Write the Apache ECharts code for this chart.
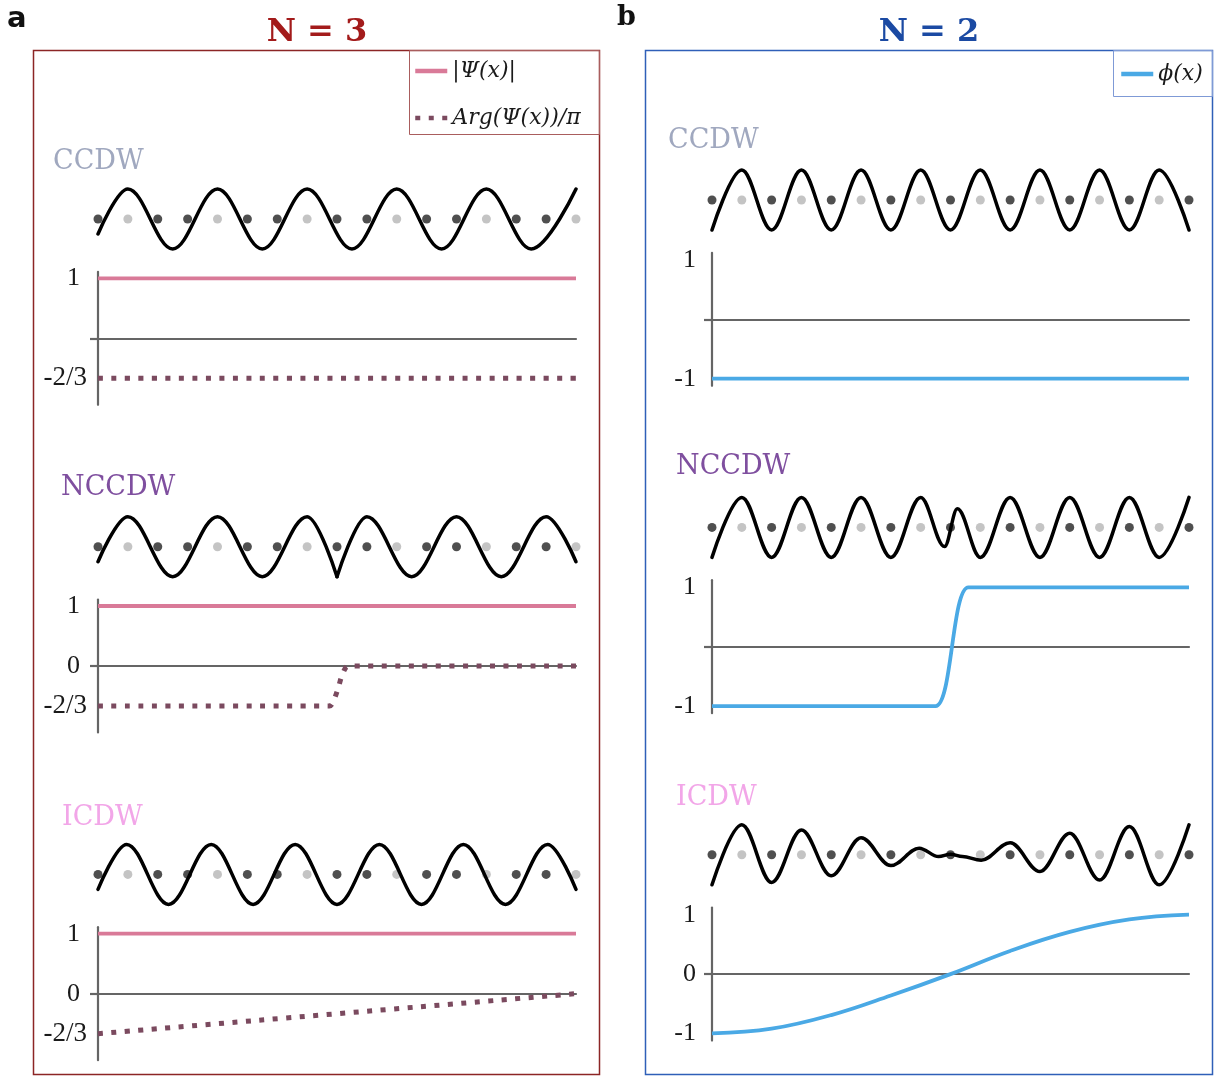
<!DOCTYPE html>
<html>
<head>
<meta charset="utf-8">
<script src="https://cdn.jsdelivr.net/npm/echarts@6/dist/echarts.min.js"></script>
<style>
html,body{margin:0;padding:0;background:#ffffff;}
#chart{width:1217px;height:1076px;}
</style>
</head>
<body>
<div id="chart"></div>
<script>
// ================= DATA =================
// lattice sites (x positions in units of the site spacing)
const sitesLightA = [1, 4, 7, 10, 13, 16];
const sitesDarkA  = [0, 2, 3, 5, 6, 8, 9, 11, 12, 14, 15];
const sitesLightB = [1, 3, 5, 7, 9, 11, 13, 15];
const sitesDarkB  = [0, 2, 4, 6, 8, 10, 12, 14, 16];

// CDW waves: extrema of the black curves [site, amplitude]
const waveA_CCDW = [[0,-0.5],[1,1],[2.5,-1],[4,1],[5.5,-1],[7,1],[8.5,-1],[10,1],[11.5,-1],[13,1],[14.5,-1],[16,1]];
const waveA_NCCDW_left  = [[0,-0.5],[1,1],[2.5,-1],[4,1],[5.5,-1],[7,1],[8,-1]];
const waveA_NCCDW_right = [[8,-1],[9,1],[10.5,-1],[12,1],[13.5,-1],[15,1],[16,-0.5]];
const waveA_ICDW = [[0,-0.5],[0.96,1],[2.36,-1],[3.79,1],[5.19,-1],[6.6,1],[8.0,-1],[9.42,1],[10.83,-1],[12.23,1],[13.64,-1],[15.05,1],[16,-0.5]];
const waveB_CCDW = [[0,-1],[1,1],[2,-1],[3,1],[4,-1],[5,1],[6,-1],[7,1],[8,-1],[9,1],[10,-1],[11,1],[12,-1],[13,1],[14,-1],[15,1],[16,-1]];
const waveB_NCCDW = [[0,-1],[1,1],[2,-1],[3,1],[4,-1],[5,1],[6,-1],[7,1],[7.8,-0.64],[8.23,0.62],[9,-1],[10,1],[11,-1],[12,1],[13,-1],[14,1],[15,-1],[16,1]];
const waveB_ICDW = [[0,-1],[1,1],[2,-0.92],[3,0.83],[4,-0.7],[5,0.57],[6,-0.36],[6.95,0.22],[7.6,-0.06],[8.0,0.02],[8.4,-0.06],[9.03,-0.18],[10,0.4],[11,-0.56],[12,0.72],[13,-0.84],[14,0.94],[15,-1],[16,1]];

// order parameters
const psiA_CCDW  = [[0,1],[16,1]];
const psiA_NCCDW = [[0,1],[16,1]];
const psiA_ICDW  = [[0,1],[16,1]];
const argA_CCDW  = [[0,-2/3],[16,-2/3]];
const argA_NCCDW = [[0,-2/3],[7.75,-2/3],[7.9,-0.56],[8.05,-0.35],[8.18,-0.14],[8.38,0],[16,0]];
const argA_ICDW  = [[0,-2/3],[16,0]];
const phiB_CCDW  = [[0,-1],[16,-1]];
const phiB_NCCDW = [[0,-1],[7.5,-1],[8.6,1],[16,1]];
const phiB_ICDW  = [[0,-1],[2,-0.92],[4,-0.69],[6,-0.36],[8,0],[10,0.39],[12,0.71],[14,0.92],[16,1]];

// texts
const panelLetters = ['a', 'b'];
const panelTitles  = ['N = 3', 'N = 2'];
const phaseNames   = ['CCDW', 'NCCDW', 'ICDW'];
const legendNamesA = ['|Ψ(x)|', 'Arg(Ψ(x))/π'];
const legendNamesB = ['ϕ(x)'];
const tickValuesA = [[1, -2/3], [1, 0, -2/3], [1, 0, -2/3]];
const tickLabelsA = [['1', '-2/3'], ['1', '0', '-2/3'], ['1', '0', '-2/3']];
const tickValuesB = [[1, -1], [1, -1], [1, 0, -1]];
const tickLabelsB = [['1', '-1'], ['1', '-1'], ['1', '0', '-1']];

// ================= STYLE / LAYOUT =================
const AXIS_GRAY = '#656565';
const PINK = '#d97a98';
const MAUVE = '#7b4a5f';
const BLUE = '#4aa9e5';
const DARK_DOT = '#4f4f4f';
const LIGHT_DOT = '#c4c4c4';
const phaseColors = ['#a0a8bf', '#7f4f9f', '#f2a6e8'];
const SERIF = "'DejaVu Serif', serif";
const TSERIF = "'Liberation Serif', serif";

const layoutA = {left: 98, width: 478, centers: [219, 546.7, 874.4], ymax: 1.108, labelX: [53, 61, 62], labelDy: [-57.3, -58.7, -56.4]};
const layoutB = {left: 712, width: 477, centers: [200, 527.4, 854.8], ymax: 1.12, labelX: [668, 676, 676], labelDy: [-59, -60.4, -56.8]};
const PLOT_OFFSET = 119.3, PLOT_HALF = 66.5;

const grid = [], xAxis = [], yAxis = [], series = [];

function labelFor(v, vals, labs) {
  for (let i = 0; i < vals.length; i++) if (Math.abs(vals[i] - v) < 1e-6) return labs[i];
  return '';
}

function waveGrid(left, width, center) {
  const gi = grid.length;
  grid.push({left: left, width: width, top: center - 45, height: 90});
  xAxis.push({gridIndex: gi, type: 'value', min: 0, max: 16, show: false});
  yAxis.push({gridIndex: gi, type: 'value', min: -1.5, max: 1.5, show: false});
  return gi;
}

function plotGrid(left, width, zero, ymax, vals, labs, margin, padShort) {
  const gi = grid.length;
  grid.push({left: left, width: width, top: zero - PLOT_HALF, height: 2 * PLOT_HALF});
  xAxis.push({gridIndex: gi, type: 'value', min: 0, max: 16,
    axisLine: {show: true, onZero: true, lineStyle: {color: AXIS_GRAY, width: 2.2}},
    axisTick: {show: false}, axisLabel: {show: false}, splitLine: {show: false}});
  yAxis.push({gridIndex: gi, type: 'value', min: -ymax, max: ymax,
    axisLine: {show: true, onZero: false, lineStyle: {color: AXIS_GRAY, width: 2.2}},
    axisTick: {show: true, customValues: [0], length: 8, lineStyle: {color: AXIS_GRAY, width: 2.2}},
    axisLabel: {show: true, customValues: vals, margin: margin,
      formatter: function (v) {
        const t = labelFor(v, vals, labs);
        return t.length <= 2 ? '{s|' + t + '}' : '{f|' + t + '}';
      },
      rich: {
        s: {fontFamily: TSERIF, fontSize: 26, color: '#1a1a1a', padding: [0, padShort, 0, 0]},
        f: {fontFamily: TSERIF, fontSize: 27, color: '#1a1a1a'}
      }},
    splitLine: {show: false}});
  return gi;
}

function line(name, gi, data, color, width, type, extra) {
  series.push(Object.assign({
    type: 'line', name: name, xAxisIndex: gi, yAxisIndex: gi, data: data,
    showSymbol: false, symbol: 'none', clip: false, silent: true, animation: false,
    color: color, lineStyle: {color: color, width: width, type: type || 'solid', cap: 'butt'}, z: 3
  }, extra || {}));
}

function waveLine(gi, data) {
  series.push({type: 'line', name: 'wave', xAxisIndex: gi, yAxisIndex: gi, data: data,
    showSymbol: false, symbol: 'none', clip: false, silent: true, animation: false,
    smooth: 0.36, smoothMonotone: 'x',
    lineStyle: {color: '#000000', width: 3.5, cap: 'round', join: 'round'}, z: 4});
}

function dots(gi, sites, color) {
  series.push({type: 'scatter', xAxisIndex: gi, yAxisIndex: gi,
    data: sites.map(function (k) { return [k, 0]; }),
    symbolSize: 9, itemStyle: {color: color, opacity: 1}, silent: true, animation: false, z: 2});
}

// ---------- panel a (N = 3) ----------
const wavesA = [[waveA_CCDW], [waveA_NCCDW_left, waveA_NCCDW_right], [waveA_ICDW]];
const psiA = [psiA_CCDW, psiA_NCCDW, psiA_ICDW];
const argA = [argA_CCDW, argA_NCCDW, argA_ICDW];
for (let r = 0; r < 3; r++) {
  const c = layoutA.centers[r];
  const wg = waveGrid(layoutA.left, layoutA.width, c);
  dots(wg, sitesDarkA, DARK_DOT);
  dots(wg, sitesLightA, LIGHT_DOT);
  wavesA[r].forEach(function (w) { waveLine(wg, w); });
  const pg = plotGrid(layoutA.left, layoutA.width, c + PLOT_OFFSET, layoutA.ymax, tickValuesA[r], tickLabelsA[r], 11, 7);
  line(legendNamesA[0], pg, psiA[r], PINK, 3.8);
  line(legendNamesA[1], pg, argA[r], MAUVE, 5, [5, 8.5], {smooth: 0.3});
}

// ---------- panel b (N = 2) ----------
const wavesB = [waveB_CCDW, waveB_NCCDW, waveB_ICDW];
const phiB = [phiB_CCDW, phiB_NCCDW, phiB_ICDW];
const phiExtra = [{}, {smooth: 0.5, smoothMonotone: 'x'}, {smooth: 0.4}];
for (let r = 0; r < 3; r++) {
  const c = layoutB.centers[r];
  const wg = waveGrid(layoutB.left, layoutB.width, c);
  dots(wg, sitesDarkB, DARK_DOT);
  dots(wg, sitesLightB, LIGHT_DOT);
  waveLine(wg, wavesB[r]);
  const pg = plotGrid(layoutB.left, layoutB.width, c + PLOT_OFFSET, layoutB.ymax, tickValuesB[r], tickLabelsB[r], 16, 0);
  line(legendNamesB[0], pg, phiB[r], BLUE, 3.8, 'solid', phiExtra[r]);
}

// ---------- graphics: frames, titles, labels ----------
const graphic = [
  {type: 'rect', silent: true, shape: {x: 33.5, y: 50.5, width: 566, height: 1024}, style: {fill: 'none', stroke: '#8c2525', lineWidth: 1.5}},
  {type: 'rect', silent: true, shape: {x: 645.5, y: 50.5, width: 567, height: 1024}, style: {fill: 'none', stroke: '#2f5fb8', lineWidth: 1.5}},
  {type: 'rect', silent: true, shape: {x: 409.5, y: 50.5, width: 190, height: 84}, style: {fill: 'none', stroke: '#a95d5d', lineWidth: 1}},
  {type: 'rect', silent: true, shape: {x: 1113.5, y: 50.5, width: 99, height: 46}, style: {fill: 'none', stroke: '#7f9ad6', lineWidth: 1}},
  {type: 'text', silent: true, x: 7, y: 19, style: {text: panelLetters[0], fill: '#111', font: "bold 29px 'DejaVu Sans', sans-serif", align: 'left', verticalAlign: 'middle'}},
  {type: 'text', silent: true, x: 617, y: 18, style: {text: panelLetters[1], fill: '#111', font: "bold 27px 'DejaVu Serif', serif", align: 'left', verticalAlign: 'middle'}},
  {type: 'text', silent: true, x: 317, y: 33, style: {text: panelTitles[0], fill: '#a31b1b', font: "bold 32px 'DejaVu Serif', serif", align: 'center', verticalAlign: 'middle'}},
  {type: 'text', silent: true, x: 929, y: 33, style: {text: panelTitles[1], fill: '#1b4aa3', font: "bold 32px 'DejaVu Serif', serif", align: 'center', verticalAlign: 'middle'}}
];
for (let r = 0; r < 3; r++) {
  graphic.push({type: 'text', silent: true, x: layoutA.labelX[r], y: layoutA.centers[r] + layoutA.labelDy[r],
    style: {text: phaseNames[r], fill: phaseColors[r], font: "27px 'DejaVu Serif', serif", align: 'left', verticalAlign: 'middle'}});
  graphic.push({type: 'text', silent: true, x: layoutB.labelX[r], y: layoutB.centers[r] + layoutB.labelDy[r],
    style: {text: phaseNames[r], fill: phaseColors[r], font: "27px 'DejaVu Serif', serif", align: 'left', verticalAlign: 'middle'}});
}

const legendText = {fontFamily: SERIF, fontStyle: 'italic', fontSize: 22, color: '#1a1a1a', lineHeight: 24};

const option = {
  backgroundColor: '#ffffff',
  animation: false,
  grid: grid, xAxis: xAxis, yAxis: yAxis, series: series,
  graphic: graphic,
  legend: [
    {data: legendNamesA, orient: 'vertical', left: 413, top: 59, padding: 0, itemWidth: 32, itemHeight: 12, itemGap: 23,
     selectedMode: false, textStyle: legendText, lineStyle: {width: 4.5}, itemStyle: {opacity: 0}},
    {data: legendNamesB, orient: 'vertical', left: 1119, top: 62, padding: 0, itemWidth: 32, itemHeight: 12, itemGap: 23,
     selectedMode: false, textStyle: legendText, lineStyle: {width: 4.5}, itemStyle: {opacity: 0}}
  ]
};

const chart = echarts.init(document.getElementById('chart'), null, {renderer: 'canvas', width: 1217, height: 1076});
chart.setOption(option);
</script>
</body>
</html>
